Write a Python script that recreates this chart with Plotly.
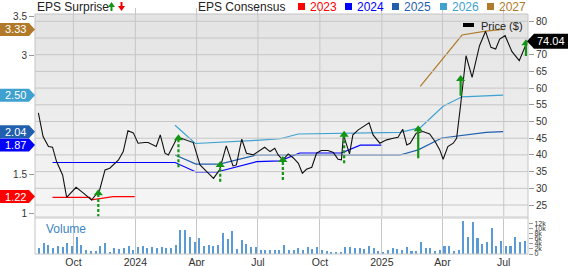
import plotly.graph_objects as go
import pandas as pd

# ---------------- data ----------------
price_dates = [
    "2023-08-10", "2023-08-17", "2023-08-25", "2023-08-31", "2023-09-06", "2023-09-15", "2023-09-21",
    "2023-10-05", "2023-10-15", "2023-10-28", "2023-11-09", "2023-11-17", "2023-11-24", "2023-12-07",
    "2023-12-14", "2023-12-21", "2023-12-29", "2024-01-05", "2024-01-15", "2024-01-20", "2024-02-01",
    "2024-02-07", "2024-02-14", "2024-02-19", "2024-03-02", "2024-03-09", "2024-03-27", "2024-04-06",
    "2024-04-16", "2024-04-26", "2024-05-05", "2024-05-15", "2024-05-25", "2024-05-30", "2024-06-07",
    "2024-06-14", "2024-06-24", "2024-07-04", "2024-07-11", "2024-07-19", "2024-07-26", "2024-07-31",
    "2024-08-07", "2024-08-15", "2024-08-23", "2024-08-30", "2024-09-05", "2024-09-11", "2024-09-19",
    "2024-09-26", "2024-10-03", "2024-10-13", "2024-10-21", "2024-10-28", "2024-11-02", "2024-11-05",
    "2024-11-14", "2024-11-19", "2024-11-27", "2024-12-13", "2024-12-19", "2024-12-29", "2025-01-08",
    "2025-01-18", "2025-01-25", "2025-02-01", "2025-02-07", "2025-02-12", "2025-02-21", "2025-03-03",
    "2025-03-13", "2025-03-21", "2025-03-28", "2025-04-02", "2025-04-09", "2025-04-17", "2025-04-22",
    "2025-04-28", "2025-05-06", "2025-05-15", "2025-05-26", "2025-06-04", "2025-06-12", "2025-06-19",
    "2025-06-25", "2025-07-03", "2025-07-13", "2025-07-24", "2025-08-01", "2025-08-05",
]
price_values = [
    52.6, 45.5, 42.5, 42.3, 38.0, 34.0, 27.3,
    30.3, 28.7, 26.5, 29.5, 35.5, 36.0, 38.5,
    41.0, 47.2, 46.6, 43.5, 43.7, 43.7, 42.5,
    46.0, 40.5, 40.0, 44.7, 45.0, 43.7, 37.0,
    35.0, 33.0, 35.5, 42.7, 36.7, 37.0, 44.7,
    40.5, 40.0, 41.5, 42.3, 41.0, 42.0, 40.0,
    38.5, 40.3, 39.0, 37.5, 34.5, 35.7, 36.3,
    40.5, 41.3, 41.3, 40.7, 38.7, 38.5, 46.0,
    40.3, 46.0, 47.5, 49.6, 46.0, 43.5, 44.5,
    45.0, 45.3, 47.7, 43.0, 43.5, 46.5, 47.0,
    46.3, 44.0, 41.5, 38.7, 42.5, 43.5, 45.0,
    55.0, 69.7, 63.2, 72.7, 77.0, 72.2, 71.7,
    74.7, 75.7, 71.0, 68.2, 72.2, 74.04,
]

eps23_dates = ["2023-08-31", "2023-10-25", "2023-10-28", "2023-11-29", "2023-12-31"]
eps23_values = [1.21, 1.21, 1.18, 1.22, 1.22]

eps24_dates = ["2023-08-31", "2024-02-29", "2024-03-31", "2024-05-01", "2024-06-29", "2024-08-03",
               "2024-09-01", "2024-11-02", "2024-11-30", "2024-12-31"]
eps24_values = [1.65, 1.65, 1.53, 1.53, 1.66, 1.67, 1.77, 1.77, 1.87, 1.87]

eps25_dates = ["2024-02-29", "2024-03-31", "2024-05-05", "2024-06-29", "2025-01-28", "2025-02-24",
               "2025-03-31", "2025-05-12", "2025-06-05", "2025-06-30"]
eps25_values = [1.745, 1.63, 1.63, 1.745, 1.745, 1.81, 1.96, 2.00, 2.03, 2.04]

eps26_dates = ["2024-02-29", "2024-03-30", "2024-06-29", "2024-08-03", "2024-08-30", "2025-01-28",
               "2025-02-27", "2025-04-02", "2025-04-30", "2025-06-30"]
eps26_values = [2.12, 1.89, 1.93, 1.95, 2.01, 2.03, 2.09, 2.36, 2.48, 2.50]

eps27_dates = ["2025-02-27", "2025-04-30", "2025-06-04", "2025-06-30"]
eps27_values = [2.61, 3.26, 3.31, 3.33]

years = ["2023", "2024", "2025", "2026", "2027"]
year_colors = ["#ff0000", "#0000ff", "#1f5fad", "#3ea1d0", "#b07a2a"]

surprise_dates = ["2023-11-07", "2024-03-05", "2024-05-06", "2024-08-07", "2024-11-06",
                  "2025-02-24", "2025-04-28", "2025-08-03"]
surprise_head = [28.5, 45.0, 37.0, 38.5, 46.0, 47.7, 62.7, 73.4]
surprise_tail = [21.4, 36.3, 32.0, 32.5, 37.5, 39.0, 57.7, 69.6]
surprise_dashed = [True, True, True, True, True, False, False, False]

volume_start = "2023-08-11"
volume_k = [
    2.2, 4.1, 3.5, 2.2, 3.2, 2.8, 4.1, 3.0, 6.8, 3.5,
    1.7, 1.3, 1.3, 3.2, 4.1, 0.9, 2.2, 1.9, 2.2, 3.2,
    1.7, 2.6, 3.0, 2.2, 2.6, 2.2, 2.8, 2.2, 2.2, 3.6,
    9.4, 9.3, 6.5, 4.8, 6.3, 3.2, 3.6, 3.2, 3.6, 8.0,
    5.8, 9.0, 1.9, 5.5, 3.9, 2.6, 2.6, 1.7, 1.7, 1.7,
    1.7, 1.7, 3.5,
    1.6, 1.6, 2.2, 1.6, 2.7, 1.9, 2.7, 1.7, 1.0, 0.9,
    0.9, 0.9, 2.8, 2.8, 2.2, 2.2, 1.9, 3.2, 2.5, 1.0,
    0.9, 1.7, 2.2, 1.9, 1.7, 2.8, 1.3, 1.2, 4.8, 2.2,
    2.2, 1.3, 1.6, 3.0, 3.2, 1.3, 1.7, 12.7, 6.8, 12.4,
    6.1, 3.7, 4.8, 10.0, 3.0, 5.2, 3.0, 3.2, 6.8, 4.8,
    5.0,
]
volume_dates = pd.date_range(volume_start, periods=len(volume_k), freq="7D")
volume_values = [v * 1000 for v in volume_k]

x_range = ["2023-08-05", "2025-08-06"]
x_tickvals = ["2023-10-01", "2024-01-01", "2024-04-01", "2024-07-01",
              "2024-10-01", "2025-01-01", "2025-04-01", "2025-07-01"]
x_ticktext = ["Oct", "2024", "Apr", "Jul", "Oct", "2025", "Apr", "Jul"]
price_ticks = [25, 30, 35, 40, 45, 50, 55, 60, 65, 70, 75, 80]
price_ticktext = ["25", "30", "35", "40", "45", "50", "55", "60", "65", "70", "", "80"]
eps_ticks = [1, 1.5, 3, 3.5]
eps_ticktext = ["1", "1.5", "3", "3.5"]
vol_ticks = [0, 2000, 4000, 6000, 8000, 10000, 12000]
vol_ticktext = ["0", "2k", "4k", "6k", "8k", "10k", "12k"]

# ---------------- geometry / styling ----------------
FONT = "Liberation Sans, Arial, sans-serif"
GRID = "#c6c6c6"
GREEN = "#149414"
W, H = 568, 266
M_L, M_R, M_T, M_B = 35, 40, 8, 12
PLOT_BOTTOM = H - M_B            # 254
PLOT_H = H - M_T - M_B           # 246

EPS_RANGE = [0.962, 3.601]
EPS_FRAME_TOP = 3.525            # EPS value at the top edge of the frame
PRICE_RANGE = [21.41, 83.98]


def py2paper(py):
    return (PLOT_BOTTOM - py) / PLOT_H


FRAME_TOP = py2paper(14)
MAIN_DOM = [py2paper(217), 1.0]
VOL_DOM = [0.0, py2paper(218)]

fig = go.Figure()

# background gradient of the main panel (first trace of the main subplot)
n_bands = 60
band_edges = [EPS_RANGE[0] + (EPS_FRAME_TOP - EPS_RANGE[0]) * i / n_bands for i in range(n_bands + 1)]
band_level = [[i / (n_bands - 1)] for i in range(n_bands)]
fig.add_trace(go.Heatmap(z=band_level, x=x_range, y=band_edges, xaxis="x", yaxis="y",
                         colorscale=[[0, "#f6f6f6"], [1, "#e3e3e3"]], zmin=0, zmax=1,
                         zsmooth=False, showscale=False, hoverinfo="skip"))

# vertical grid lines of the main panel (on top of the gradient)
vx, vy = [], []
for d in x_tickvals:
    vx += [d, d, None]
    vy += [EPS_RANGE[0], EPS_FRAME_TOP, None]
fig.add_trace(go.Scatter(x=vx, y=vy, mode="lines", xaxis="x", yaxis="y",
                         line=dict(color=GRID, width=1), hoverinfo="skip"))

# volume
fig.add_trace(go.Bar(x=volume_dates, y=volume_values, xaxis="x", yaxis="y3",
                     marker=dict(color="#5b9bd5", line=dict(width=0)),
                     width=3 * 86400000, hoverinfo="skip"))

# consensus lines
eps_series = [(eps23_dates, eps23_values), (eps24_dates, eps24_values), (eps25_dates, eps25_values),
              (eps26_dates, eps26_values), (eps27_dates, eps27_values)]
for (dts, vals), col in zip(eps_series, year_colors):
    fig.add_trace(go.Scatter(x=dts, y=vals, mode="lines", xaxis="x", yaxis="y",
                             line=dict(color=col, width=1.2), hoverinfo="skip"))

# horizontal grid lines (price scale)
hx, hy = [], []
for p in price_ticks:
    hx += [x_range[0], x_range[1], None]
    hy += [p, p, None]
fig.add_trace(go.Scatter(x=hx, y=hy, mode="lines", xaxis="x", yaxis="y2",
                         line=dict(color=GRID, width=1), hoverinfo="skip"))

# price
fig.add_trace(go.Scatter(x=price_dates, y=price_values, mode="lines", xaxis="x", yaxis="y2",
                         line=dict(color="#111111", width=1.1), hoverinfo="skip"))

# surprise arrows
for d, h, t, dashed in zip(surprise_dates, surprise_head, surprise_tail, surprise_dashed):
    fig.add_trace(go.Scatter(x=[d, d], y=[t, h], mode="lines", xaxis="x", yaxis="y2",
                             line=dict(color=GREEN, width=2.2, dash="3px,2px" if dashed else "solid"),
                             hoverinfo="skip"))
    fig.add_trace(go.Scatter(x=[d], y=[h], mode="markers", xaxis="x", yaxis="y2",
                             marker=dict(symbol="triangle-up", size=8, color=GREEN, line=dict(width=0)),
                             hoverinfo="skip"))

shapes = []
# separator band
shapes.append(dict(type="line", xref="paper", yref="paper", x0=0, x1=1,
                   y0=py2paper(217.5), y1=py2paper(217.5),
                   line=dict(color="#dadada", width=2.5), layer="above"))
# frame
shapes.append(dict(type="rect", xref="paper", yref="paper", x0=0, x1=1, y0=0, y1=FRAME_TOP,
                   line=dict(color="#c4c4c4", width=1), fillcolor="rgba(0,0,0,0)", layer="above"))

annotations = []
# left EPS badges
for vals, col in zip([eps27_values, eps26_values, eps25_values, eps24_values, eps23_values],
                     [year_colors[4], year_colors[3], year_colors[2], year_colors[1], year_colors[0]]):
    v = vals[-1]
    shapes.append(dict(type="path", xref="paper", yref="y", xsizemode="pixel", ysizemode="pixel",
                       xanchor=0, yanchor=v,
                       path="M -35,6.5 L -6,6.5 L 0,0 L -6,-6.5 L -35,-6.5 Z",
                       fillcolor=col, line=dict(width=0), layer="above"))
    annotations.append(dict(xref="paper", yref="y", x=0, y=v, xshift=-20, text=f"{v:.2f}",
                            showarrow=False, xanchor="center", yanchor="middle",
                            font=dict(family=FONT, size=11, color="white")))

# right price badge
last_price = price_values[-1]
shapes.append(dict(type="path", xref="paper", yref="y2", xsizemode="pixel", ysizemode="pixel",
                   xanchor=1, yanchor=last_price,
                   path="M -1,0 L 6,7.5 L 40,7.5 L 40,-7.5 L 6,-7.5 Z",
                   fillcolor="#000000", line=dict(width=0), layer="above"))
annotations.append(dict(xref="paper", yref="y2", x=1, y=last_price, xshift=23, text=f"{last_price:.2f}",
                        showarrow=False, xanchor="center", yanchor="middle",
                        font=dict(family=FONT, size=11, color="white")))


# top legend
def top_text(px, py, text, color="#222222", size=12):
    annotations.append(dict(xref="paper", yref="paper", x=(px - M_L) / (W - M_L - M_R), y=py2paper(py),
                            text=text, showarrow=False, xanchor="left", yanchor="middle",
                            font=dict(family=FONT, size=size, color=color)))


def px_shape(kind, color, **kw):
    d = dict(type=kind, xref="paper", yref="paper", xsizemode="pixel", ysizemode="pixel",
             xanchor=0, yanchor=FRAME_TOP, fillcolor=color, line=dict(width=0))
    d.update(kw)
    shapes.append(d)


top_text(35, 7, "EPS Surprise")
top_text(196, 7, "EPS Consensus")
px_shape("path", GREEN, path="M 73,7 L 80,7 L 76.5,12 Z")
px_shape("path", GREEN, path="M 75.5,7 L 77.5,7 L 77.5,3 L 75.5,3 Z")
px_shape("path", "#ee0000", path="M 83,8 L 90,8 L 86.5,3 Z")
px_shape("path", "#ee0000", path="M 85.5,8 L 87.5,8 L 87.5,12 L 85.5,12 Z")
leg_x = [298, 345, 392, 440, 487]
for px, yr, col in zip(leg_x, years, year_colors):
    px_shape("rect", col, x0=px - M_L, x1=px - M_L + 7, y0=4, y1=11)
    top_text(px + 10, 7, yr, color=col)

# price legend
px_shape("rect", "#000000", x0=428, x1=439, y0=-13, y1=-9)
top_text(479, 25.5, "Price ($)", color="#222222", size=11)

# volume label
top_text(44, 229, "Volume", color="#3d85c6", size=12)

TICKFONT = dict(family=FONT, size=10, color="#333333")
fig.update_layout(
    width=W, height=H,
    margin=dict(l=M_L, r=M_R, t=M_T, b=M_B, pad=0, autoexpand=False),
    paper_bgcolor="white", plot_bgcolor="white",
    showlegend=False,
    font=dict(family=FONT, size=11, color="#333333"),
    bargap=0,
    xaxis=dict(domain=[0, 1], anchor="y3", type="date", automargin=False,
               range=x_range, tickvals=x_tickvals, ticktext=x_ticktext,
               showgrid=True, gridcolor=GRID, gridwidth=1, zeroline=False, showline=False,
               ticks="", tickfont=dict(family=FONT, size=10.5, color="#333333")),
    yaxis=dict(domain=MAIN_DOM, anchor="x", side="left", range=EPS_RANGE, automargin=False,
               tickvals=eps_ticks, ticktext=eps_ticktext, ticklabeloverflow="allow",
               showgrid=False, zeroline=False, showline=False,
               ticks="outside", ticklen=5, tickcolor="#9a9a9a", tickfont=TICKFONT),
    yaxis2=dict(overlaying="y", side="right", anchor="x", range=PRICE_RANGE, automargin=False,
                tickvals=price_ticks, ticktext=price_ticktext,
                showgrid=False, zeroline=False, showline=False,
                ticks="outside", ticklen=5, tickcolor="#9a9a9a", tickfont=TICKFONT),
    yaxis3=dict(domain=VOL_DOM, anchor="x", side="right", range=[0, 14000], automargin=False,
                tickvals=vol_ticks, ticktext=vol_ticktext,
                showgrid=False, zeroline=False, showline=False, ticks="outside", ticklen=4,
                tickcolor="#9a9a9a", tickfont=dict(family=FONT, size=7, color="#333333")),
    shapes=shapes,
    annotations=annotations,
)

fig.write_html("out.html")
